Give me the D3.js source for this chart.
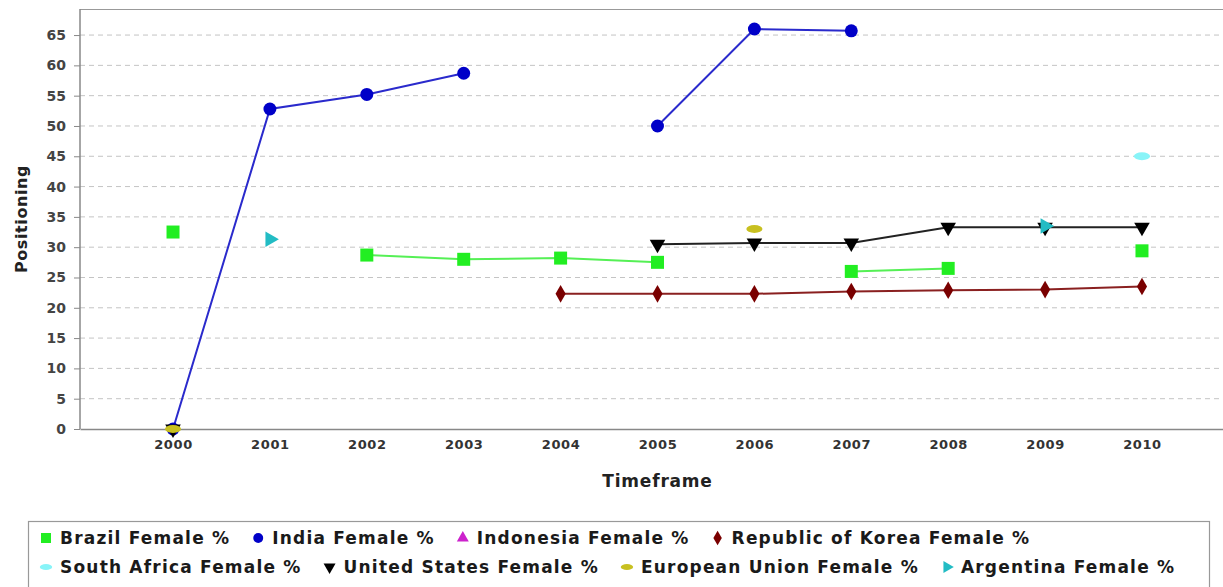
<!DOCTYPE html>
<html>
<head>
<meta charset="utf-8">
<script src="https://cdn.jsdelivr.net/npm/d3@7"></script>
<style>
  body { margin: 0; background: #fff; }
  text { font-family: "DejaVu Sans", sans-serif; font-weight: bold; }
</style>
</head>
<body>
<div id="chart"></div>
<script>
// data
const years = ["2000", "2001", "2002", "2003", "2004", "2005", "2006", "2007", "2008", "2009", "2010"];
const brazil      = [32.5, null, 28.7, 28.0, 28.2, 27.5, null, 26.0, 26.5, null, 29.4];
const india       = [0, 52.8, 55.2, 58.7, null, 50.0, 66.0, 65.7, null, null, null];
const indonesia   = [null, null, null, null, null, null, null, null, null, null, null];
const korea       = [null, null, null, null, 22.3, 22.3, 22.3, 22.7, 22.9, 23.0, 23.5];
const southAfrica = [null, null, null, null, null, null, null, null, null, null, 45.0];
const unitedStates = [0, null, null, null, null, 30.5, 30.7, 30.7, 33.3, 33.3, 33.3];
const europeanUnion = [0, null, null, null, null, null, 33.0, null, null, null, null];
const argentina   = [null, 31.3, null, null, null, null, null, null, null, 33.5, null];
const yTicks = [0, 5, 10, 15, 20, 25, 30, 35, 40, 45, 50, 55, 60, 65];

const series = [
  { name: "Brazil Female %", values: brazil, color: "#22ee22", line: "#55f055", shape: "square" },
  { name: "India Female %", values: india, color: "#0000c8", line: "#2a2acc", shape: "circle" },
  { name: "Indonesia Female %", values: indonesia, color: "#cc22cc", line: "#cc22cc", shape: "up" },
  { name: "Republic of Korea  Female %", values: korea, color: "#7a0000", line: "#8a2020", shape: "diamond" },
  { name: "South Africa Female %", values: southAfrica, color: "#88f4f8", line: "#88f4f8", shape: "dash" },
  { name: "United States Female %", values: unitedStates, color: "#000000", line: "#222222", shape: "down" },
  { name: "European Union Female %", values: europeanUnion, color: "#c8c020", line: "#c8c020", shape: "dash" },
  { name: "Argentina Female %", values: argentina, color: "#22bcc4", line: "#22bcc4", shape: "right" }
];

const svgWidth = 1223;
const svgHeight = 587;
const plot = { left: 80, top: 9, right: 1235, bottom: 429 };

const svg = d3.select("#chart")
  .append("svg")
  .attr("width", svgWidth)
  .attr("height", svgHeight);

const x = d3.scalePoint(years, [plot.left, plot.right]).padding(0.96);
const y = d3.scaleLinear([0, 69.3], [plot.bottom, plot.top]);

// grid
svg.append("g")
  .selectAll("line")
  .data(yTicks.filter(d => d > 0))
  .join("line")
  .attr("x1", plot.left)
  .attr("x2", plot.right)
  .attr("y1", d => y(d))
  .attr("y2", d => y(d))
  .attr("stroke", "#c4c4c4")
  .attr("stroke-width", 1)
  .attr("stroke-dasharray", "5,4");

// plot frame: top edge
svg.append("line")
  .attr("x1", plot.left).attr("x2", plot.right)
  .attr("y1", plot.top + 0.5).attr("y2", plot.top + 0.5)
  .attr("stroke", "#999").attr("stroke-width", 1.2);

// y axis
const yAxis = svg.append("g")
  .attr("transform", `translate(${plot.left},0)`)
  .call(d3.axisLeft(y).tickValues(yTicks).tickSize(6).tickPadding(8));
yAxis.select(".domain").attr("stroke", "#888").attr("stroke-width", 1.5)
  .attr("d", `M0,${plot.top}V${plot.bottom}`);
yAxis.selectAll(".tick line").attr("stroke", "#888");
yAxis.selectAll(".tick text")
  .style("font-size", "14px")
  .style("fill", "#444");

// x axis
const xAxis = svg.append("g")
  .attr("transform", `translate(0,${plot.bottom})`)
  .call(d3.axisBottom(x).tickSize(0).tickPadding(11));
xAxis.select(".domain").attr("stroke", "#888").attr("stroke-width", 1.5);
xAxis.selectAll(".tick text")
  .style("font-size", "13px")
  .style("letter-spacing", "0.6px")
  .style("fill", "#333");

// axis titles
svg.append("text")
  .attr("transform", "rotate(-90)")
  .attr("x", -(plot.top + plot.bottom) / 2)
  .attr("y", 27)
  .attr("text-anchor", "middle")
  .style("font-size", "16px")
  .style("letter-spacing", "0.6px")
  .style("fill", "#222")
  .text("Positioning");

svg.append("text")
  .attr("x", x("2005"))
  .attr("y", 487)
  .attr("text-anchor", "middle")
  .style("font-size", "17px")
  .style("letter-spacing", "0.8px")
  .style("fill", "#222")
  .text("Timeframe");

// marker shapes
function marker(sel, shape, s) {
  if (shape === "dash") {
    sel.append("ellipse").attr("rx", s * 0.62).attr("ry", s * 0.3);
    return;
  }
  const types = {
    square: [d3.symbolSquare, 0, 1.0],
    circle: [d3.symbolCircle, 0, 0.78],
    up: [d3.symbolTriangle, 0, 0.62],
    down: [d3.symbolTriangle, 180, 0.62],
    right: [d3.symbolTriangle, 90, 0.62],
    diamond: [d3.symbolDiamond, 0, 0.62]
  };
  const t = types[shape];
  sel.append("path")
    .attr("d", d3.symbol(t[0], s * s * t[2]))
    .attr("transform", `rotate(${t[1]})`);
}

// lines
const line = d3.line()
  .defined(d => d.v !== null)
  .x(d => x(d.year))
  .y(d => y(d.v));

series.forEach(s => {
  const pts = years.map((year, i) => ({ year, v: s.values[i] }));
  svg.append("path")
    .datum(pts)
    .attr("fill", "none")
    .attr("stroke", s.line)
    .attr("stroke-width", 2)
    .attr("d", line);
});

// points
series.forEach(s => {
  years.forEach((year, i) => {
    const v = s.values[i];
    if (v === null) return;
    const g = svg.append("g")
      .attr("transform", `translate(${x(year)},${y(v)})`)
      .attr("fill", s.color);
    marker(g, s.shape, s.shape === "diamond" ? 12 : 13);
  });
});

// legend
const legend = svg.append("g");
legend.append("rect")
  .attr("x", 28.5).attr("y", 521.5)
  .attr("width", 1181).attr("height", 70)
  .attr("fill", "#fff")
  .attr("stroke", "#999").attr("stroke-width", 1.2);

const rows = [series.slice(0, 4), series.slice(4)];
rows.forEach((row, r) => {
  let cx = 46;
  const cy = 538 + r * 29;
  row.forEach(s => {
    const g = legend.append("g")
      .attr("transform", `translate(${cx},${cy})`)
      .attr("fill", s.color);
    marker(g, s.shape, 10);
    const t = legend.append("text")
      .attr("x", cx + 14)
      .attr("y", cy + 6)
      .style("font-size", "17px")
      .style("letter-spacing", "1.2px")
      .style("fill", "#1a1a1a")
      .text(s.name);
    cx += 14 + t.node().getComputedTextLength() + 28;
  });
});
</script>
</body>
</html>
